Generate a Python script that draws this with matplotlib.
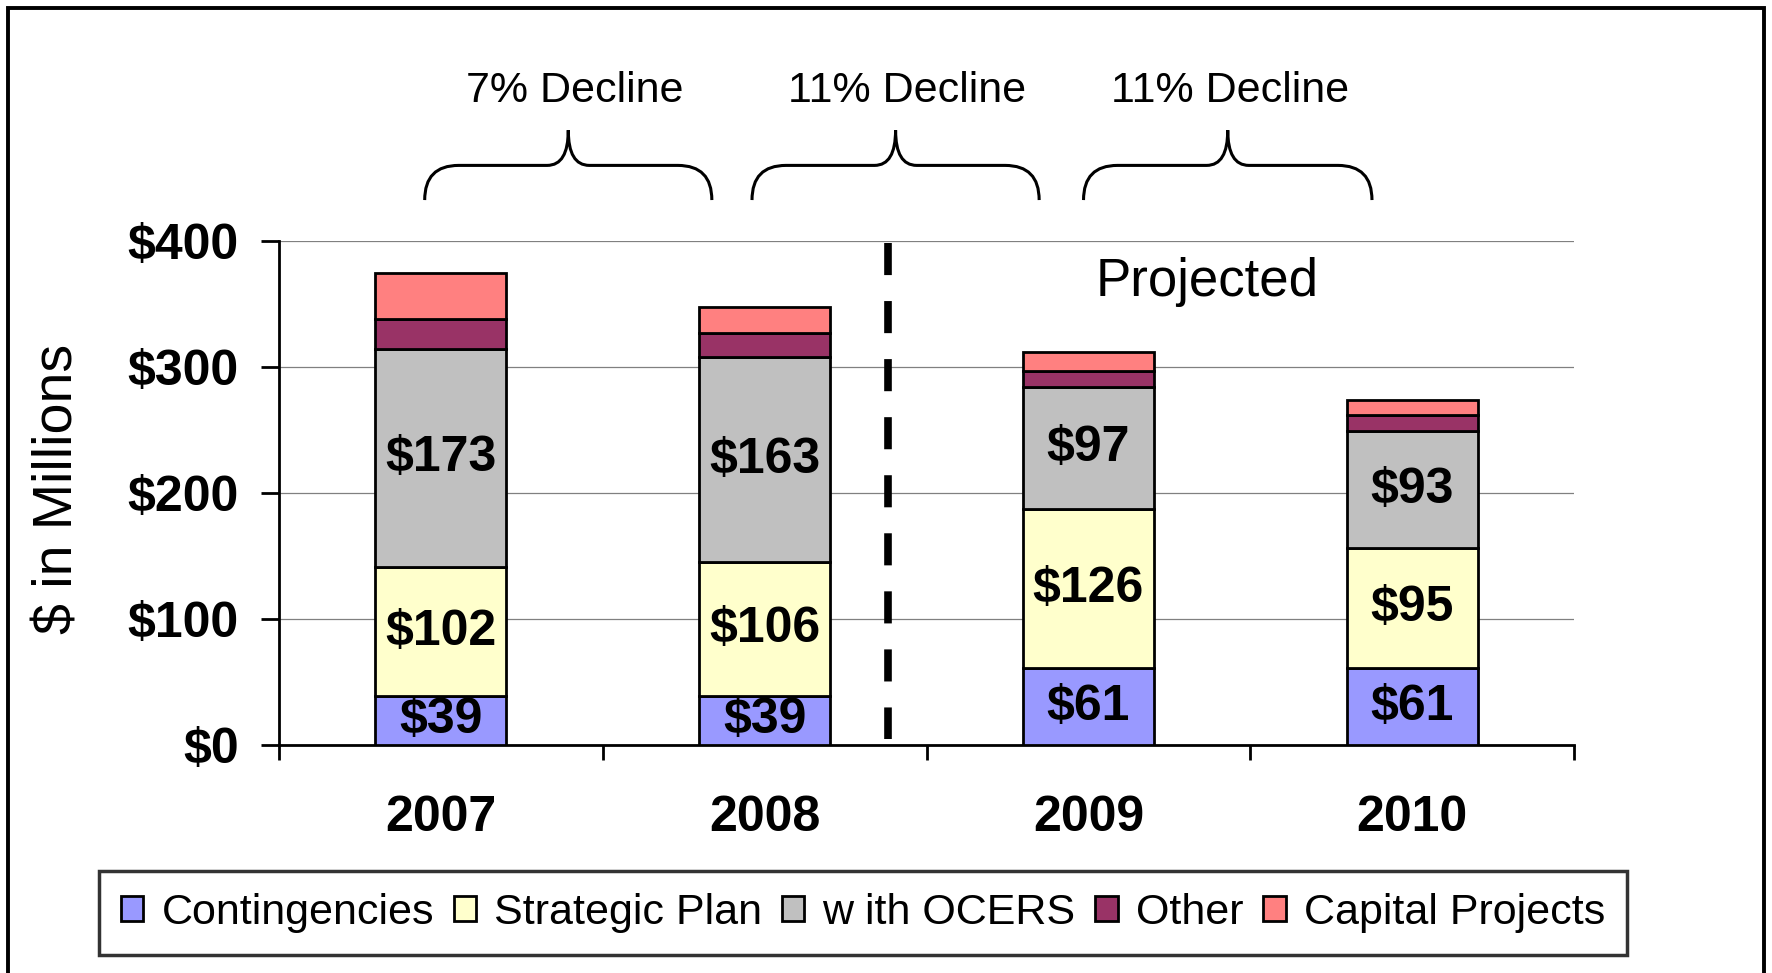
import matplotlib
matplotlib.use("Agg")
import matplotlib.pyplot as plt
from matplotlib.path import Path
from matplotlib.patches import PathPatch, Rectangle, Patch

plt.rcParams['font.family'] = ['Liberation Sans', 'DejaVu Sans']

# Данные
years = ['2007', '2008', '2009', '2010']
contingencies = [39, 39, 61, 61]
strategic = [102, 106, 126, 95]
ocers = [173, 163, 97, 93]
other = [24, 19, 13, 13]
capital = [37, 21, 15, 12]
series_names = ['Contingencies', 'Strategic Plan', 'w ith OCERS', 'Other', 'Capital Projects']
declines = ['7% Decline', '11% Decline', '11% Decline']
yticks = [0, 100, 200, 300, 400]

colors = ['#9999FF', '#FFFFCC', '#C0C0C0', '#993366', '#FF8080']

fig = plt.figure(figsize=(17.72, 9.73), dpi=100)
ax = fig.add_axes([279 / 1772, 1 - 745 / 973, 1295 / 1772, 504 / 973])

x = list(range(len(years)))
bottom = [0] * len(years)
series = [contingencies, strategic, ocers, other, capital]
for vals, col in zip(series, colors):
    ax.bar(x, vals, 0.405, bottom=bottom, color=col, edgecolor='black', linewidth=2, zorder=3)
    bottom = [b + v for b, v in zip(bottom, vals)]

# Подписи внутри столбцов
bottom = [0] * len(years)
for vals in series[:3]:
    for i, v in enumerate(vals):
        ax.text(i, bottom[i] + v / 2, f'${v}', ha='center', va='center',
                fontsize=36, fontweight='bold', zorder=4)
    bottom = [b + v for b, v in zip(bottom, vals)]

ax.set_xlim(-0.5, 3.5)
ax.set_ylim(0, 400)
ax.set_yticks(yticks)
ax.set_yticklabels([f'${v}' for v in yticks], fontsize=36, fontweight='bold')
ax.set_xticks(x)
ax.set_xticklabels(years, fontsize=36, fontweight='bold')
ax.set_xticks([-0.5, 0.5, 1.5, 2.5, 3.5], minor=True)
ax.tick_params(axis='x', which='major', length=0, pad=36)
ax.tick_params(axis='x', which='minor', length=11, width=2, direction='out')
ax.tick_params(axis='y', length=13, width=2, pad=16)
ax.grid(axis='y', color='#808080', linewidth=0.9)
ax.set_axisbelow(True)
for s in ['top', 'right']:
    ax.spines[s].set_visible(False)
for s in ['left', 'bottom']:
    ax.spines[s].set_linewidth(2)

# Пунктирная линия
ax.plot([1.381, 1.381], [398.5, 5], color='black', linewidth=5.5,
        dashes=(4.2, 3.4), clip_on=False, zorder=5)
ax.text(2.366, 356, 'Projected', ha='center', va='baseline', fontsize=38)


# Фигурные скобки
def brace(x0, x1, y_end=432.5, y_mid=460, y_tip=488, r=0.105, t=0.065):
    xm = (x0 + x1) / 2
    verts = [(x0, y_end), (x0, y_mid), (x0 + r, y_mid), (xm - t, y_mid),
             (xm, y_mid), (xm, y_tip), (xm, y_mid), (xm + t, y_mid),
             (x1 - r, y_mid), (x1, y_mid), (x1, y_end)]
    codes = [Path.MOVETO, Path.CURVE3, Path.CURVE3, Path.LINETO,
             Path.CURVE3, Path.CURVE3, Path.CURVE3, Path.CURVE3,
             Path.LINETO, Path.CURVE3, Path.CURVE3]
    ax.add_patch(PathPatch(Path(verts, codes), facecolor='none', edgecolor='black',
                           linewidth=2.2, clip_on=False))


for (x0, x1), txt, tx in zip([(-0.05, 0.837), (0.961, 1.848), (1.985, 2.876)],
                             declines, [0.414, 1.44, 2.438]):
    brace(x0, x1)
    ax.text(tx, 510, txt, ha='center', va='baseline', fontsize=31, clip_on=False)

fig.text(59 / 1772, 1 - 489 / 973, '$ in Millions', rotation=90, ha='center',
         va='center', fontsize=40)

handles = [Patch(facecolor=c, edgecolor='black', linewidth=2) for c in colors]
leg = fig.legend(handles, series_names, loc='center', bbox_to_anchor=(863 / 1772, 1 - 913 / 973),
                 ncol=5, fontsize=31, frameon=True, fancybox=False, handlelength=0.52,
                 handleheight=0.52, handletextpad=0.42, columnspacing=0.46, borderpad=0.5,
                 borderaxespad=0)
leg.get_frame().set_edgecolor('black')
leg.get_frame().set_linewidth(2.5)

# Рамка вокруг рисунка
fig.patches.append(Rectangle((8 / 1772, -0.01), (1764 - 8) / 1772, 1.01 - 8 / 973,
                             transform=fig.transFigure, fill=False, edgecolor='black',
                             linewidth=2.8))

fig.savefig('out.png', dpi=100)
